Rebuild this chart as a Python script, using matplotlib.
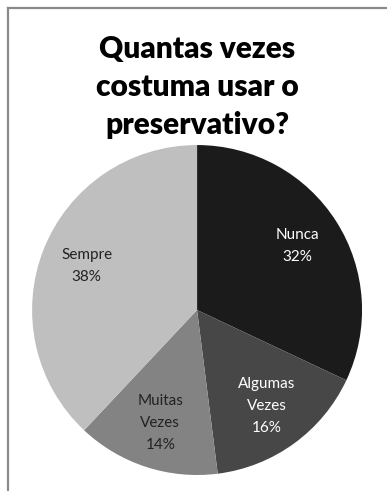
import matplotlib
matplotlib.use('Agg')
from matplotlib import pyplot as plt
from matplotlib.lines import Line2D

# data
categories = ['Nunca', 'Algumas Vezes', 'Muitas Vezes', 'Sempre']
percents = [32, 16, 14, 38]
colors = ['#1b1b1b', '#474747', '#838383', '#bfbfbf']
label_colors = ['white', 'white', '#222222', '#222222']
title = 'Quantas vezes\ncostuma usar o\npreservativo?'

plt.rcParams['font.family'] = ['Lato', 'DejaVu Sans']

fig = plt.figure(figsize=(3.87, 4.91), dpi=100)

# frame lines (top and left only, as in the original crop)
fig.add_artist(Line2D([7.5/387, 7.5/387], [0, 1 - 7.5/491], color='#8a8a8a', lw=1.6, transform=fig.transFigure))
fig.add_artist(Line2D([7.5/387, 1], [1 - 7.5/491, 1 - 7.5/491], color='#8a8a8a', lw=1.6, transform=fig.transFigure))

fig.text(0.509, 1 - 87/491, title, ha='center', va='center', fontsize=21.5,
         fontweight='heavy', linespacing=1.45, color='black')

ax = fig.add_axes([0.0827, 0.0326, 0.853, 0.672])
labels = [c.replace(' ', '\n') + '\n' + str(p) + '%' for c, p in zip(categories, percents)]
wedges, texts = ax.pie(percents, colors=colors, startangle=90, counterclock=False,
                       labels=labels, labeldistance=0.72,
                       wedgeprops={'linewidth': 0},
                       textprops={'ha': 'center', 'va': 'center', 'fontsize': 11,
                                  'linespacing': 1.75})
for t, c in zip(texts, label_colors):
    t.set_color(c)
ax.set_xlim(-1, 1)
ax.set_ylim(-1, 1)
ax.set_aspect('equal')

plt.savefig('out.png', dpi=100)
